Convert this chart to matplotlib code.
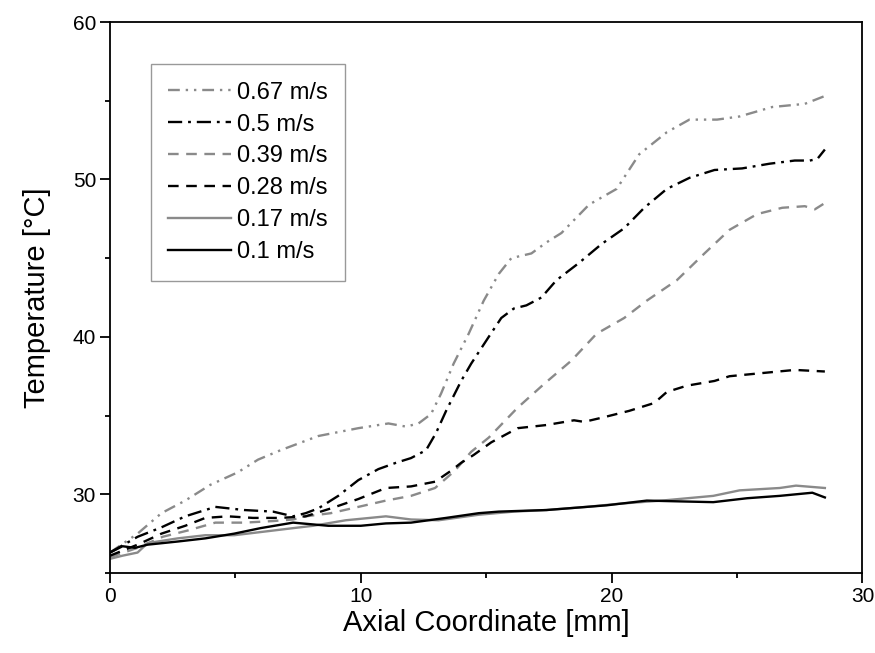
import matplotlib.pyplot as plt
from matplotlib.ticker import MultipleLocator

plt.rcParams['font.family'] = ['Liberation Sans', 'DejaVu Sans']

# axial coordinate [mm] and temperature [°C]
x_067 = [0.0, 1.1, 2.05, 3.0, 4.0, 5.1, 5.9, 6.8, 8.3, 9.9, 11.1, 11.8, 12.3, 12.8, 13.2, 13.7, 14.3, 14.9,
         15.5, 16.0, 16.8, 17.4, 18.0, 19.1, 20.2, 21.1, 22.2, 23.1, 24.2, 25.1, 26.4, 27.7, 28.5]
t_067 = [26.3, 27.5, 28.8, 29.6, 30.6, 31.4, 32.2, 32.8, 33.7, 34.2, 34.5, 34.3, 34.5, 35.1, 36.4, 38.3, 40.2, 42.3,
         44.0, 45.0, 45.3, 46.0, 46.6, 48.4, 49.4, 51.6, 53.0, 53.8, 53.8, 54.0, 54.6, 54.8, 55.3]

x_05 = [0.0, 1.1, 2.05, 3.0, 4.2, 5.35, 6.5, 7.3, 7.8, 8.3, 9.1, 9.9, 10.7, 11.4, 12.0, 12.6, 13.0, 13.4, 14.0,
        14.4, 15.1, 15.6, 16.1, 16.6, 17.2, 17.8, 18.7, 19.6, 20.5, 21.3, 22.2, 23.1, 24.1, 25.2, 26.3, 27.3,
        27.9, 28.2, 28.5]
t_05 = [26.3, 27.3, 27.9, 28.6, 29.2, 29.0, 28.9, 28.6, 28.8, 29.1, 29.9, 30.9, 31.6, 32.0, 32.3, 32.8, 33.9, 35.3,
        37.2, 38.3, 40.0, 41.2, 41.8, 42.0, 42.5, 43.6, 44.7, 45.9, 46.9, 48.2, 49.4, 50.1, 50.6, 50.7, 51.0,
        51.2, 51.2, 51.3, 51.9]

x_039 = [0.0, 1.1, 2.1, 3.1, 4.2, 5.35, 6.5, 7.3, 7.8, 8.8, 9.9, 11.0, 12.0, 12.96, 13.75, 14.4, 15.1, 16.25,
         17.3, 18.4, 19.4, 20.5, 21.4, 22.6, 23.7, 24.7, 25.8, 26.8, 27.7, 28.1, 28.5]
t_039 = [26.0, 26.6, 27.3, 27.7, 28.2, 28.2, 28.3, 28.4, 28.6, 28.8, 29.2, 29.6, 29.9, 30.4, 31.5, 32.7, 33.6, 35.5,
         37.0, 38.5, 40.2, 41.2, 42.3, 43.6, 45.3, 46.8, 47.8, 48.2, 48.3, 48.1, 48.5]

x_028 = [0.0, 1.1, 2.05, 3.0, 3.8, 4.7, 5.7, 6.8, 7.8, 8.8, 9.9, 11.0, 12.0, 12.96, 13.6, 14.0, 14.5, 15.2,
         16.25, 17.4, 18.5, 18.9, 19.7, 20.7, 21.7, 22.2, 23.0, 24.1, 24.7, 26.0, 27.3, 28.5]
t_028 = [26.1, 26.8, 27.5, 28.0, 28.5, 28.6, 28.5, 28.5, 28.6, 29.1, 29.7, 30.4, 30.5, 30.8, 31.5, 32.0, 32.5, 33.3,
         34.2, 34.4, 34.7, 34.6, 34.9, 35.3, 35.8, 36.5, 36.9, 37.2, 37.5, 37.7, 37.9, 37.8]

x_017 = [0.0, 0.5, 1.1, 1.5, 2.7, 3.8, 4.95, 6.0, 7.3, 8.1, 9.4, 11.0, 12.0, 13.1, 14.7, 16.1, 17.4, 19.0,
         20.3, 22.0, 24.05, 25.1, 26.7, 27.35, 28.5]
t_017 = [25.9, 26.1, 26.3, 26.9, 27.2, 27.4, 27.4, 27.6, 27.85, 28.0, 28.35, 28.6, 28.4, 28.35, 28.7, 28.9, 29.0, 29.2,
         29.4, 29.6, 29.9, 30.25, 30.4, 30.55, 30.4]

x_01 = [0.0, 0.5, 1.0, 1.5, 2.7, 3.8, 4.95, 6.0, 7.3, 8.7, 10.0, 11.0, 12.0, 13.4, 14.7, 15.5, 17.4, 19.8,
        21.4, 22.7, 24.05, 25.4, 26.7, 28.0, 28.5]
t_01 = [26.3, 26.7, 26.6, 26.8, 27.0, 27.2, 27.5, 27.85, 28.2, 28.0, 28.0, 28.15, 28.2, 28.5, 28.8, 28.9, 29.0, 29.3,
        29.6, 29.55, 29.5, 29.75, 29.9, 30.1, 29.8]

labels = ['0.67 m/s', '0.5 m/s', '0.39 m/s', '0.28 m/s', '0.17 m/s', '0.1 m/s']

gray = '#8a8a8a'

fig = plt.figure(figsize=(8.75, 6.53), dpi=100)
ax = fig.add_axes([0.1257, 0.1225, 0.86, 0.8438])

lw = 1.7
ax.plot(x_067, t_067, color=gray, lw=lw, dashes=(5, 2.5, 1, 2.5, 1, 2.5), label=labels[0])
ax.plot(x_05, t_05, color='black', lw=lw, dashes=(6, 2.5, 1.2, 2.5), label=labels[1])
ax.plot(x_039, t_039, color=gray, lw=lw, dashes=(4.5, 3.2), label=labels[2])
ax.plot(x_028, t_028, color='black', lw=lw, dashes=(4.5, 3.2), label=labels[3])
ax.plot(x_017, t_017, color=gray, lw=lw, label=labels[4])
ax.plot(x_01, t_01, color='black', lw=lw, label=labels[5])

ax.set_xlim(0, 30)
ax.set_ylim(25, 60)
ax.xaxis.set_major_locator(MultipleLocator(10))
ax.xaxis.set_minor_locator(MultipleLocator(5))
ax.yaxis.set_major_locator(MultipleLocator(10))
ax.yaxis.set_minor_locator(MultipleLocator(5))
ax.tick_params(which='major', direction='out', length=7, width=1.3, labelsize=15, pad=3)
ax.tick_params(which='minor', direction='out', length=3.5, width=1.3)
for s in ax.spines.values():
    s.set_linewidth(1.3)

ax.set_xlabel('Axial Coordinate [mm]', fontsize=21, labelpad=2)
ax.set_ylabel('Temperature [°C]', fontsize=21, labelpad=16)

leg = ax.legend(loc='upper left', bbox_to_anchor=(0.054, 0.924), fontsize=17, frameon=True,
                fancybox=False, edgecolor='#808080', handlelength=2.65, handletextpad=0.25,
                labelspacing=0.42, borderpad=0.75, borderaxespad=0)
leg.get_frame().set_linewidth(1.0)

fig.savefig('out.png', dpi=100)
